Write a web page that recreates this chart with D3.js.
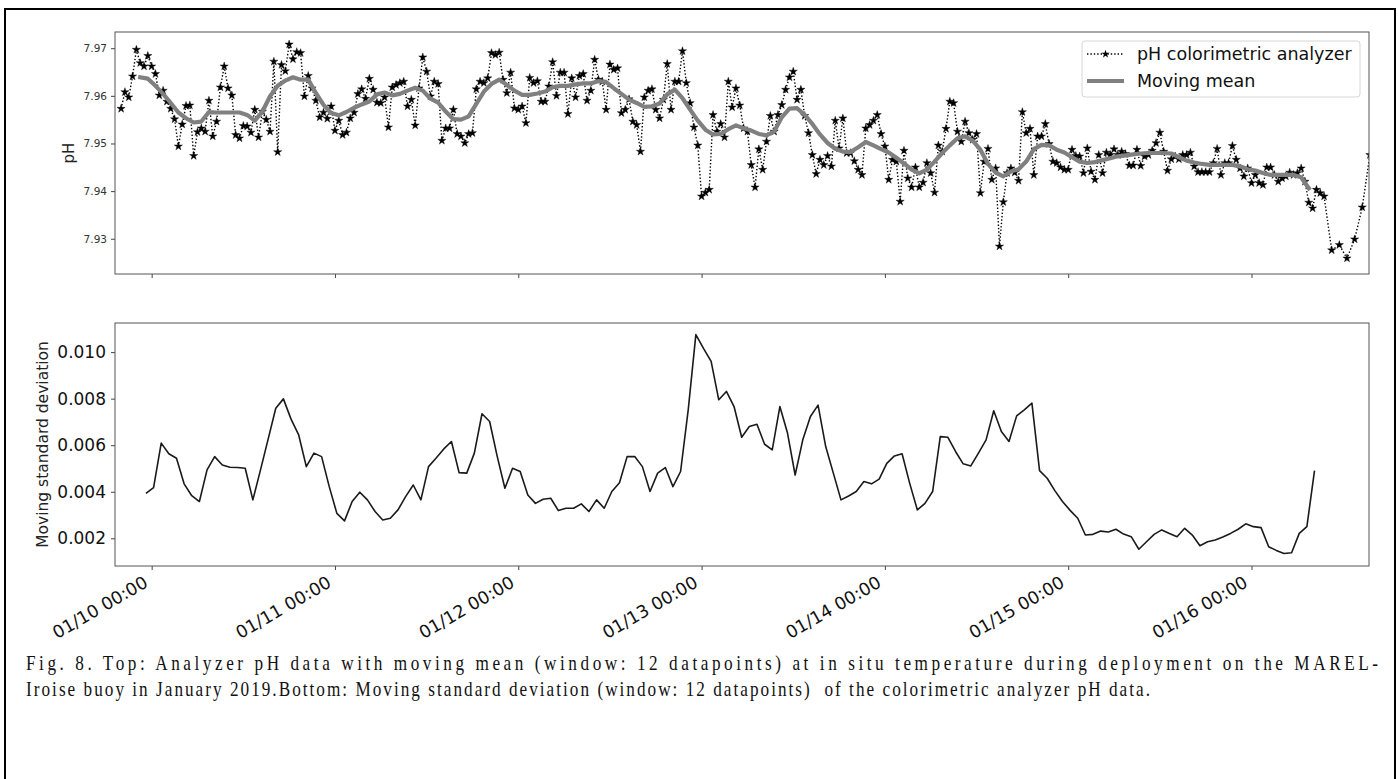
<!DOCTYPE html>
<html>
<head>
<meta charset="utf-8">
<script src="https://cdn.jsdelivr.net/npm/d3@7"></script>
<style>
  body { margin: 0; background: #fff; }
  text { font-family: "DejaVu Sans", sans-serif; }
</style>
</head>
<body>
<svg id="fig" width="1398" height="779"></svg>
<script>
// ---- data ----
// analyzer pH, one sample every 30 min from phStart, then hourly at the end
const phStart = '2019-01-09T20:00:00'
const phHalfHourly = [
  7.9573, 7.9608, 7.9597, 7.9641, 7.9697, 7.9669, 7.9662, 7.9684, 7.9662, 7.9646,
  7.9601, 7.9611, 7.9588, 7.9573, 7.9551, 7.9494, 7.9540, 7.9579, 7.9580, 7.9474,
  7.9524, 7.9532, 7.9525, 7.9590, 7.9515, 7.9546, 7.9618, 7.9662, 7.9616, 7.9601,
  7.9518, 7.9511, 7.9537, 7.9536, 7.9523, 7.9571, 7.9513, 7.9567, 7.9550, 7.9525,
  7.9672, 7.9482, 7.9665, 7.9652, 7.9708, 7.9677, 7.9692, 7.9690, 7.9599, 7.9642,
  7.9616, 7.9590, 7.9555, 7.9565, 7.9552, 7.9578, 7.9527, 7.9548, 7.9518, 7.9523,
  7.9553, 7.9565, 7.9604, 7.9614, 7.9594, 7.9636, 7.9613, 7.9586, 7.9585, 7.9597,
  7.9534, 7.9618, 7.9623, 7.9627, 7.9630, 7.9578, 7.9592, 7.9538, 7.9616, 7.9681,
  7.9651, 7.9599, 7.9630, 7.9625, 7.9506, 7.9532, 7.9532, 7.9571, 7.9520, 7.9515,
  7.9501, 7.9520, 7.9522, 7.9614, 7.9630,
  7.9627, 7.9637, 7.9690, 7.9686, 7.9691, 7.9634, 7.9606, 7.9649, 7.9574, 7.9571,
  7.9578, 7.9543, 7.9638, 7.9627, 7.9631, 7.9588, 7.9588, 7.9620, 7.9671, 7.9600,
  7.9649, 7.9649, 7.9562, 7.9637, 7.9597, 7.9642, 7.9646, 7.9590, 7.9611, 7.9676,
  7.9634, 7.9630, 7.9571, 7.9666, 7.9655, 7.9658, 7.9564, 7.9571, 7.9593, 7.9546,
  7.9539, 7.9483, 7.9597, 7.9611, 7.9614, 7.9571, 7.9553, 7.9592, 7.9667, 7.9571,
  7.9630, 7.9630, 7.9694, 7.9627, 7.9585, 7.9534, 7.9496, 7.9389, 7.9397, 7.9403,
  7.9560, 7.9525, 7.9541, 7.9513, 7.9630, 7.9576, 7.9616, 7.9580, 7.9532, 7.9525,
  7.9455, 7.9408, 7.9488, 7.9445, 7.9504, 7.9558, 7.9525, 7.9560, 7.9581, 7.9613,
  7.9639, 7.9651, 7.9592, 7.9613, 7.9558, 7.9522, 7.9476, 7.9436, 7.9466, 7.9455,
  7.9474, 7.9452, 7.9548, 7.9490, 7.9553, 7.9480, 7.9480, 7.9463, 7.9445, 7.9434,
  7.9532, 7.9539, 7.9548, 7.9560, 7.9520, 7.9494, 7.9424, 7.9466, 7.9462, 7.9378,
  7.9485, 7.9427, 7.9408, 7.9450, 7.9408, 7.9418, 7.9459, 7.9438, 7.9397,
  7.9496, 7.9483, 7.9531, 7.9588, 7.9585, 7.9525, 7.9504, 7.9546, 7.9522, 7.9508,
  7.9520, 7.9396, 7.9462, 7.9489, 7.9424, 7.9448, 7.9284, 7.9377, 7.9438, 7.9448,
  7.9439, 7.9422, 7.9566, 7.9522, 7.9531, 7.9434, 7.9515, 7.9515, 7.9541, 7.9499,
  7.9462, 7.9459, 7.9450, 7.9445, 7.9445, 7.9487, 7.9474, 7.9473, 7.9438, 7.9490,
  7.9441, 7.9424, 7.9476, 7.9438, 7.9481, 7.9476, 7.9488, 7.9476, 7.9483, 7.9478,
  7.9454, 7.9454, 7.9487, 7.9453, 7.9473, 7.9476, 7.9485, 7.9501, 7.9523, 7.9483,
  7.9443, 7.9467, 7.9473, 7.9467, 7.9476, 7.9476, 7.9481, 7.9452, 7.9440, 7.9440,
  7.9440, 7.9440, 7.9459, 7.9489, 7.9434, 7.9459, 7.9459, 7.9495, 7.9466, 7.9448,
  7.9431, 7.9448, 7.9417, 7.9434, 7.9417, 7.9413, 7.9450, 7.9450, 7.9434, 7.9420,
  7.9427, 7.9431, 7.9439, 7.9434, 7.9438, 7.9448, 7.9420, 7.9376, 7.9364, 7.9403,
  7.9396, 7.9389
]
const phTailStart = '2019-01-16T10:30:00'
const phHourlyTail = [7.9276, 7.9287, 7.9259, 7.9299, 7.9366, 7.9476]

// moving mean (12 pts), hourly from meanStart
const meanStart = '2019-01-09T22:30:00'
const movingMean = [
  7.9639, 7.9636, 7.9621, 7.9604, 7.9585, 7.9565, 7.9553, 7.9544, 7.9546, 7.9566,
  7.9565, 7.9565, 7.9565, 7.9565, 7.9560, 7.9548, 7.9567, 7.9599, 7.9621, 7.9632,
  7.9639, 7.9634, 7.9634, 7.9606, 7.9581, 7.9564, 7.9559, 7.9566, 7.9575, 7.9582,
  7.9588, 7.9603, 7.9607, 7.9601, 7.9604, 7.9611, 7.9617, 7.9611, 7.9594, 7.9586,
  7.9567, 7.9551, 7.9550, 7.9557, 7.9583, 7.9609,
  7.9625, 7.9634, 7.9623, 7.9611, 7.9602, 7.9602, 7.9605, 7.9609, 7.9618, 7.9621,
  7.9621, 7.9624, 7.9626, 7.9626, 7.9631, 7.9629, 7.9616, 7.9604, 7.9592, 7.9585,
  7.9577, 7.9578, 7.9584, 7.9603, 7.9613, 7.9595, 7.9571, 7.9548, 7.9529, 7.9519,
  7.9520, 7.9530, 7.9538, 7.9532, 7.9527, 7.9520, 7.9517, 7.9525, 7.9555, 7.9573,
  7.9574, 7.9560, 7.9541, 7.9519, 7.9501, 7.9489, 7.9483, 7.9482, 7.9492, 7.9503,
  7.9496, 7.9488, 7.9481, 7.9470, 7.9458, 7.9445, 7.9437, 7.9445, 7.9462, 7.9480,
  7.9496, 7.9511, 7.9515, 7.9506, 7.9487, 7.9457, 7.9439, 7.9431, 7.9441, 7.9446,
  7.9462, 7.9488, 7.9497, 7.9496, 7.9487, 7.9481, 7.9471, 7.9462, 7.9459, 7.9461,
  7.9465, 7.9469, 7.9473, 7.9475, 7.9477, 7.9479, 7.9480, 7.9480, 7.9480, 7.9479,
  7.9471, 7.9464, 7.9460, 7.9457, 7.9455, 7.9455, 7.9455, 7.9455, 7.9452, 7.9446,
  7.9443, 7.9438, 7.9434, 7.9434, 7.9434, 7.9434, 7.9429, 7.9406
]

// moving standard deviation (12 pts), hourly from stdStart
const stdStart = '2019-01-09T23:15:00'
const movingStd = [
  0.00393, 0.00418, 0.00609, 0.00563, 0.00544, 0.00434, 0.00383, 0.00358, 0.00494, 0.00551,
  0.00515, 0.00505, 0.00504, 0.00501, 0.00365, 0.00494, 0.00626, 0.00759, 0.00799, 0.00712,
  0.00644, 0.00508, 0.00566, 0.00551, 0.00422, 0.00307, 0.00275, 0.00358, 0.00398, 0.00365,
  0.00315, 0.00279, 0.00286, 0.00322, 0.00379, 0.00429, 0.00365, 0.00508, 0.00545, 0.00584,
  0.00616, 0.00482, 0.00480, 0.00566, 0.00735,
  0.00702, 0.00551, 0.00415, 0.00501, 0.00487, 0.00386, 0.00350, 0.00368, 0.00372, 0.00319,
  0.00329, 0.00329, 0.00348, 0.00315, 0.00365, 0.00329, 0.00401, 0.00439, 0.00551, 0.00551,
  0.00508, 0.00401, 0.00480, 0.00504, 0.00422, 0.00487, 0.00752, 0.01075, 0.01016, 0.00960,
  0.00795, 0.00831, 0.00766, 0.00634, 0.00680, 0.00690, 0.00604, 0.00580, 0.00766, 0.00652,
  0.00472, 0.00623, 0.00723, 0.00772, 0.00594, 0.00480, 0.00365, 0.00382, 0.00401, 0.00444,
  0.00434, 0.00454, 0.00522, 0.00554, 0.00563, 0.00436, 0.00322, 0.00350, 0.00401, 0.00637,
  0.00634, 0.00573, 0.00520, 0.00511, 0.00566, 0.00623, 0.00748, 0.00659, 0.00616, 0.00726,
  0.00752, 0.00781, 0.00491, 0.00458, 0.00405, 0.00358, 0.00320, 0.00286, 0.00214, 0.00217,
  0.00231, 0.00227, 0.00239, 0.00218, 0.00207, 0.00153, 0.00185, 0.00217, 0.00236, 0.00221,
  0.00207, 0.00243, 0.00214, 0.00168, 0.00185, 0.00193, 0.00206, 0.00221, 0.00239, 0.00262,
  0.00250, 0.00246, 0.00164, 0.00148, 0.00135, 0.00138, 0.00221, 0.00250, 0.00491
]

const phTicks = [7.93, 7.94, 7.95, 7.96, 7.97]
const stdTicks = [0.002, 0.004, 0.006, 0.008, 0.010]
const dayTicks = ['2019-01-10', '2019-01-11', '2019-01-12', '2019-01-13', '2019-01-14', '2019-01-15', '2019-01-16']
const timeExtent = ['2019-01-09T19:12:00', '2019-01-16T15:23:00']
const phExtent = [7.9226, 7.9734]
const stdExtent = [0.00081, 0.01125]
const legendLabels = ['pH colorimetric analyzer', 'Moving mean']
const captionLines = [
  'Fig. 8. Top: Analyzer pH data with moving mean (window: 12 datapoints) at in situ temperature during deployment on the MAREL-',
  'Iroise buoy in January 2019.Bottom: Moving standard deviation (window: 12 datapoints)  of the colorimetric analyzer pH data.'
]

// ---- build series ----
const parseT = d3.timeParse('%Y-%m-%dT%H:%M:%S')
const parseD = d3.timeParse('%Y-%m-%d')

const t0 = parseT(phStart)
const tTail = parseT(phTailStart)
const phData = phHalfHourly.map((v, i) => ({ t: d3.timeMinute.offset(t0, 30 * i), v }))
  .concat(phHourlyTail.map((v, i) => ({ t: d3.timeHour.offset(tTail, i), v })))
const meanData = movingMean.map((v, i) => ({ t: d3.timeHour.offset(parseT(meanStart), i), v }))
const stdData = movingStd.map((v, i) => ({ t: d3.timeHour.offset(parseT(stdStart), i), v }))

// ---- layout ----
const svg = d3.select('#fig')
const left = 115, right = 1369
const top1 = 32, bot1 = 274
const top2 = 323, bot2 = 566

const x = d3.scaleTime().domain(timeExtent.map(parseT)).range([left, right])
const y1 = d3.scaleLinear().domain(phExtent).range([bot1, top1])
const y2 = d3.scaleLinear().domain(stdExtent).range([bot2, top2])

// outer frame
svg.append('path')
  .attr('d', 'M5,779 L5,9 L1395,9 L1395,779')
  .attr('fill', 'none')
  .attr('stroke', '#000')
  .attr('stroke-width', 2)

const defs = svg.append('defs')
defs.append('clipPath').attr('id', 'clipTop')
  .append('rect').attr('x', left).attr('y', top1).attr('width', right - left).attr('height', bot1 - top1)
defs.append('clipPath').attr('id', 'clipBot')
  .append('rect').attr('x', left).attr('y', top2).attr('width', right - left).attr('height', bot2 - top2)

// ---- top panel ----
const gTop = svg.append('g')
const plotTop = gTop.append('g').attr('clip-path', 'url(#clipTop)')

const phLine = d3.line().x(d => x(d.t)).y(d => y1(d.v))

plotTop.append('path')
  .datum(phData)
  .attr('d', phLine)
  .attr('fill', 'none')
  .attr('stroke', '#000')
  .attr('stroke-width', 1.4)
  .attr('stroke-dasharray', '1.4,2')

const star = d3.symbol(d3.symbolStar, 21)

plotTop.selectAll('.star')
  .data(phData)
  .enter()
  .append('path')
  .attr('class', 'star')
  .attr('d', star)
  .attr('transform', d => 'translate(' + x(d.t) + ',' + y1(d.v) + ')')
  .attr('fill', '#000')
  .attr('stroke', '#000')
  .attr('stroke-width', 0.4)

plotTop.append('path')
  .datum(meanData)
  .attr('d', phLine)
  .attr('fill', 'none')
  .attr('stroke', '#808080')
  .attr('stroke-width', 4.2)
  .attr('stroke-linejoin', 'round')
  .attr('stroke-linecap', 'square')

const yAxis1 = gTop.append('g')
  .attr('transform', 'translate(' + left + ',0)')
  .call(d3.axisLeft(y1).tickValues(phTicks).tickFormat(d3.format('.2f')).tickSize(4).tickPadding(4))
yAxis1.selectAll('.tick text').attr('font-size', 10.5).attr('fill', '#333').attr('font-family', 'DejaVu Sans')
yAxis1.selectAll('.tick line').attr('stroke', '#444')

const xAxis1 = gTop.append('g')
  .attr('transform', 'translate(0,' + bot1 + ')')
  .call(d3.axisBottom(x).tickValues(dayTicks.map(parseD)).tickFormat('').tickSize(4))
xAxis1.selectAll('.tick line').attr('stroke', '#444')

svg.selectAll('.domain').remove()

gTop.append('rect')
  .attr('x', left).attr('y', top1).attr('width', right - left).attr('height', bot1 - top1)
  .attr('fill', 'none').attr('stroke', '#555').attr('stroke-width', 1)

gTop.append('text')
  .attr('transform', 'translate(74,' + ((top1 + bot1) / 2) + ') rotate(-90)')
  .attr('text-anchor', 'middle')
  .attr('font-size', 15)
  .attr('fill', '#222')
  .text('pH')

// legend
const leg = gTop.append('g')
leg.append('rect')
  .attr('x', 1082).attr('y', 41).attr('width', 278).attr('height', 56).attr('rx', 3)
  .attr('fill', '#fff').attr('fill-opacity', 0.8)
  .attr('stroke', '#d6d6d6')

leg.append('line')
  .attr('x1', 1087).attr('x2', 1124).attr('y1', 54).attr('y2', 54)
  .attr('stroke', '#000').attr('stroke-width', 1.4).attr('stroke-dasharray', '1.4,2')
leg.append('path')
  .attr('d', star)
  .attr('transform', 'translate(1105.5,54)')
leg.append('line')
  .attr('x1', 1087).attr('x2', 1124).attr('y1', 81).attr('y2', 81)
  .attr('stroke', '#808080').attr('stroke-width', 4.2)

leg.selectAll('.lab')
  .data(legendLabels)
  .enter()
  .append('text')
  .attr('class', 'lab')
  .attr('x', 1137)
  .attr('y', (d, i) => 54 + i * 27)
  .attr('dy', '0.36em')
  .attr('font-size', 17.5)
  .attr('fill', '#111')
  .text(d => d)

// ---- bottom panel ----
const gBot = svg.append('g')
const plotBot = gBot.append('g').attr('clip-path', 'url(#clipBot)')

plotBot.append('path')
  .datum(stdData)
  .attr('d', d3.line().x(d => x(d.t)).y(d => y2(d.v)))
  .attr('fill', 'none')
  .attr('stroke', '#1a1a1a')
  .attr('stroke-width', 1.6)
  .attr('stroke-linejoin', 'round')

const yAxis2 = gBot.append('g')
  .attr('transform', 'translate(' + left + ',0)')
  .call(d3.axisLeft(y2).tickValues(stdTicks).tickFormat(d3.format('.3f')).tickSize(4).tickPadding(5))
yAxis2.selectAll('.tick text').attr('font-size', 17).attr('fill', '#111').attr('font-family', 'DejaVu Sans')
yAxis2.selectAll('.tick line').attr('stroke', '#444')

const fmt = d3.timeFormat('%m/%d %H:%M')
const xAxis2 = gBot.append('g')
  .attr('transform', 'translate(0,' + bot2 + ')')
  .call(d3.axisBottom(x).tickValues(dayTicks.map(parseD)).tickFormat(fmt).tickSize(4))
xAxis2.selectAll('.tick line').attr('stroke', '#444')
xAxis2.selectAll('.tick text')
  .attr('x', 0).attr('y', 0).attr('dy', 0)
  .attr('text-anchor', 'end')
  .attr('transform', 'translate(-3,20) rotate(-30)')
  .attr('font-size', 17.5)
  .attr('fill', '#111')
  .attr('font-family', 'DejaVu Sans')

gBot.selectAll('.domain').remove()

gBot.append('rect')
  .attr('x', left).attr('y', top2).attr('width', right - left).attr('height', bot2 - top2)
  .attr('fill', 'none').attr('stroke', '#555').attr('stroke-width', 1)

gBot.append('text')
  .attr('transform', 'translate(48,' + ((top2 + bot2) / 2) + ') rotate(-90)')
  .attr('text-anchor', 'middle')
  .attr('font-size', 15.5)
  .attr('fill', '#222')
  .text('Moving standard deviation')

// ---- caption: narrow serif glyphs with open letter spacing ----
const capX = 26
const squeeze = 0.86
const capWidths = [1352, 1124]
const capBase = [670, 696]

captionLines.forEach((txt, i) => {
  const t = svg.append('text')
    .attr('x', 0).attr('y', 0)
    .attr('transform', 'translate(' + capX + ',' + capBase[i] + ') scale(' + squeeze + ',1)')
    .attr('font-size', 20)
    .attr('fill', '#111')
    .style('font-family', '"Liberation Serif", serif')
    .style('white-space', 'pre')
    .text(txt)
  t.attr('textLength', capWidths[i] / squeeze).attr('lengthAdjust', 'spacing')
})
</script>
</body>
</html>
